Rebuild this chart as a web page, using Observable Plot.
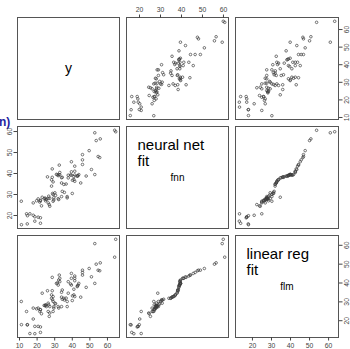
<!DOCTYPE html>
<html><head><meta charset="utf-8">
<script src="https://cdn.jsdelivr.net/npm/d3@7"></script>
<script src="https://cdn.jsdelivr.net/npm/@observablehq/plot@0.6"></script>
<style>
html,body{margin:0;padding:0;background:#fff;}
#chart{position:relative;width:350px;height:349px;overflow:hidden;background:#fff;font-family:"Liberation Sans",Arial,sans-serif;}
#chart svg{position:absolute;overflow:visible;}
#side{position:absolute;left:-1px;top:116px;font:bold 12px/12px "Liberation Sans",Arial,sans-serif;color:#1f1fa0;white-space:nowrap;}
</style></head><body><div id="chart"><div id="side">n)</div></div>
<script>
// observed response and the two fitted values (one entry per observation)
const y   = [64.1,64.7,55.6,54.7,55.9,53.6,52.8,52.8,50.9,49.6,47.9,45.8,45.8,45.8,44.8,43.7,43.3,42.8,41.4,41.4,41.4,41.4,40.9,40.1,40.9,40.0,39.5,39.5,39.5,37.7,37.7,37.1,37.1,35.2,34.3,33.9,33.9,32.3,32.0,33.9,34.3,32.9,32.3,32.9,32.6,31.0,32.0,29.1,29.5,29.5,30.1,29.1,28.8,29.1,28.2,28.2,28.6,28.6,26.9,27.2,26.6,26.3,27.2,26.3,25.9,25.3,24.8,24.0,22.5,21.5,21.9,20.6,19.7,22.9,21.9,21.9,20.6,18.7,18.7,17.8,17.8,15.9,14.5,14.0,11.1,11.0,25.0,24.5,21.8,36.5,43.0,35.5,30.5,14.4,39.0,31.5];
const flm = [53.7,63.2,46.5,46.8,50.7,50.0,60.9,39.8,43.3,47.7,37.7,44.2,45.6,46.8,32.5,39.8,38.9,38.1,41.2,42.5,43.7,32.8,33.7,33.2,36.7,30.7,38.9,42.5,45.1,34.6,40.7,27.5,30.2,31.9,31.4,32.5,27.5,26.7,27.5,35.1,36.3,40.7,41.6,42.5,44.2,39.8,38.9,24.9,26.7,27.5,29.3,30.2,31.1,32.8,31.9,33.7,35.9,43.0,22.3,27.5,28.4,29.3,24.1,24.9,35.9,27.5,28.4,28.1,23.7,24.9,25.8,26.7,26.3,34.6,13.8,16.7,17.0,13.1,17.0,20.9,26.7,13.2,17.9,24.9,17.9,30.2,28.2,28.0,25.9,32.0,38.5,31.0,29.0,17.8,39.5,40.0];
const fnn = [60.6,59.9,47.6,48.1,56.5,55.7,59.4,39.5,41.9,50.9,38.8,44.3,46.5,49.0,35.5,39.5,39.0,38.7,39.3,41.1,43.5,36.3,37.1,36.8,38.5,30.5,39.2,40.8,45.6,37.9,39.2,28.4,29.0,34.8,31.5,35.5,29.0,27.6,28.0,38.0,38.2,39.4,39.5,40.5,44.0,39.6,39.0,26.8,27.4,28.4,30.8,30.0,30.5,36.0,34.0,37.0,38.2,42.2,25.2,28.2,29.2,28.1,24.4,26.0,38.4,27.6,27.0,28.0,24.6,26.4,27.2,27.9,27.0,28.7,16.3,18.9,19.2,17.3,19.4,20.1,26.0,20.8,19.9,20.8,15.6,26.8,27.8,28.3,27.0,35.0,38.9,31.0,29.6,16.0,39.3,39.4];

const varNames = ["y", "fnn", "flm"];
const diagTitles = ["", "neural net\nfit", "linear reg\nfit"];
const ticksY   = [10, 20, 30, 40, 50, 60];
const ticksFnn = [20, 30, 40, 50, 60];
const ticksFlm = [20, 30, 40, 50, 60];

const series = {y, fnn, flm};
const tickSets = {y: ticksY, fnn: ticksFnn, flm: ticksFlm};
const rows = y.map((v, i) => ({y: v, fnn: fnn[i], flm: flm[i]}));

function dom(a) { const [lo, hi] = d3.extent(a); const r = hi - lo; return [lo - 0.04 * r, hi + 0.04 * r]; }

const colLeft = [17, 126, 235], rowTop = [17, 126, 235];
const colW = [102, 102, 103], rowH = [102, 102, 102];
const labelSize = [14, 10, 10];
const M = 40;
const axisOpts = {tickSize: 3.5, tickPadding: 2, fontSize: 6.8, label: null, color: "#444"};
const chart = document.getElementById("chart");

for (let i = 0; i < 3; i++) {
  for (let j = 0; j < 3; j++) {
    const xv = varNames[j], yv = varNames[i];
    const marks = [];
    if (i === j) {
      marks.push(Plot.text([varNames[i]], {frameAnchor: "middle", fontSize: labelSize[i], fill: "black"}));
      if (diagTitles[i]) {
        marks.push(Plot.text([diagTitles[i]], {frameAnchor: "top-left", textAnchor: "start", lineAnchor: "top",
          dx: 11, dy: 12, fontSize: 15, lineHeight: 1.07, fill: "black"}));
      }
    } else {
      marks.push(Plot.dot(rows, {x: d => d[xv], y: d => d[yv], r: 1.3, stroke: "#3c3c3c", strokeWidth: 0.7}));
    }
    marks.push(Plot.frame({stroke: "#555", strokeWidth: 1}));
    if (i === 0 && j % 2 === 1) marks.push(Plot.axisX({...axisOpts, anchor: "top", ticks: tickSets[xv]}));
    if (i === 2 && j % 2 === 0) marks.push(Plot.axisX({...axisOpts, anchor: "bottom", ticks: tickSets[xv]}));
    if (j === 0 && i % 2 === 1) marks.push(Plot.axisY({...axisOpts, anchor: "left", ticks: tickSets[yv], tickRotate: -90, textAnchor: "middle", lineAnchor: "bottom"}));
    if (j === 2 && i % 2 === 0) marks.push(Plot.axisY({...axisOpts, anchor: "right", ticks: tickSets[yv], tickRotate: -90, textAnchor: "middle", lineAnchor: "top"}));
    const svg = Plot.plot({
      width: colW[j] + 2 * M, height: rowH[i] + 2 * M,
      marginLeft: M, marginRight: M, marginTop: M, marginBottom: M,
      x: {domain: dom(series[xv]), axis: null},
      y: {domain: dom(series[yv]), axis: null},
      style: {background: "transparent", overflow: "visible", fontFamily: "'Liberation Sans', Arial, sans-serif"},
      marks
    });
    svg.style.position = "absolute";
    svg.style.left = (colLeft[j] - M) + "px";
    svg.style.top = (rowTop[i] - M) + "px";
    svg.style.maxWidth = "none";
    chart.appendChild(svg);
  }
}
</script></body></html>
